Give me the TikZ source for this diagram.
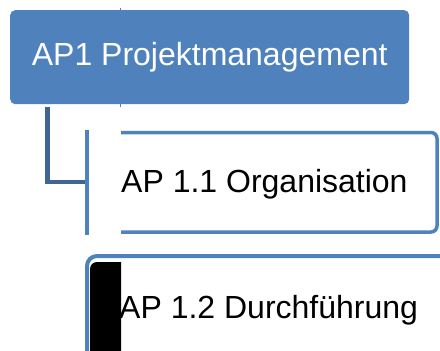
\documentclass[tikz,border=0pt]{standalone}
\usepackage{fontspec}
\setmainfont{Liberation Sans}
\usetikzlibrary{positioning}
\definecolor{apblue}{HTML}{4F81BD}
\definecolor{apdark}{HTML}{3F6595}
\tikzset{
  aptext/.style={font=\fontsize{32}{38}\selectfont, inner sep=0pt},
  apframe/.style={draw=apblue, line width=3.5pt},
}

\begin{document}
\begin{tikzpicture}[x=1pt,y=-1pt]
	\useasboundingbox (0,0) rectangle (440,351);

		% thin guide line behind the top box
		\draw[apblue, line width=1pt] (120,8) -- (120,107);

		\node[aptext, fill=apblue, text=white, rounded corners=5pt, minimum width=399pt, minimum height=94pt, anchor=north west] (pm) at (10,10) {AP1 Projektmanagement};

		% second level
		\node[aptext, anchor=base west] (org) at (121,192) {AP 1.1 Organisation};
		\draw[apframe, rounded corners=6pt] (121,132.5) -- (437,132.5) -- (437,232) -- (121,232);
		\coordinate (stem) at (47.5,107);
		\coordinate (orgbar) at (87,182);
		\draw[apdark, line width=4.5pt] (stem) |- (orgbar);
		\draw[apframe, line width=4pt] (87,130) -- (87,235);

		\draw[apframe, line width=4pt, rounded corners=10pt] (460,256) -- (87,256) -- (87,370);
		\fill[black] (121,262) -- (97,262) arc[start angle=-90, end angle=-180, radius=7] -- (90,360) -- (121,360) -- cycle;
		\node[aptext, anchor=base west] (dur) at (119,318) {AP 1.2 Durchführung};

\end{tikzpicture}
\end{document}
